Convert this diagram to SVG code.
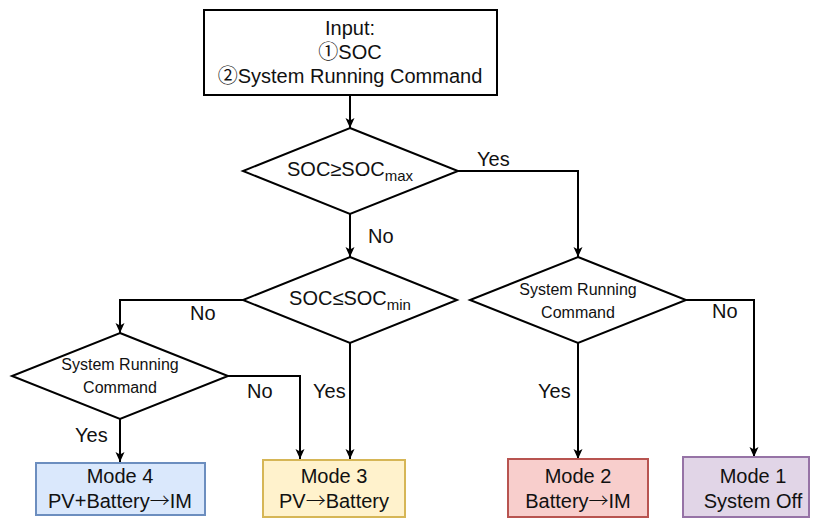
<svg xmlns="http://www.w3.org/2000/svg" width="816" height="518" viewBox="0 0 816 518">
  <defs>
    <marker id="arrow" markerUnits="userSpaceOnUse" markerWidth="12" markerHeight="12" viewBox="0 0 12 12" refX="11" refY="6" orient="auto">
      <path d="M1,1.5 L11,6 L1,10.5 L3.5,6 Z" fill="#000"/>
    </marker>
    <style>
      .box { fill: #fff; stroke: #000; stroke-width: 2; }
      .dia { fill: #fff; stroke: #000; stroke-width: 2; }
      .edge { fill: none; stroke: #000; stroke-width: 2; marker-end: url(#arrow); }
      text { font-family: "Liberation Sans", Arial, sans-serif; fill: #111; }
      .sym { font-family: "Noto Sans CJK SC", "DejaVu Sans", sans-serif; }
      .arr { font-family: "Noto Sans CJK SC", "DejaVu Sans", sans-serif; font-weight: 300; }
      .big { font-size: 20px; text-anchor: middle; }
      .small { font-size: 16px; text-anchor: middle; }
      .lbl { font-size: 20px; }
      .m4 { fill: #dae8fc; stroke: #6c8ebf; stroke-width: 2; }
      .m3 { fill: #fff2cc; stroke: #d6b656; stroke-width: 2; }
      .m2 { fill: #f8cecc; stroke: #b85450; stroke-width: 2; }
      .m1 { fill: #e1d5e7; stroke: #9673a6; stroke-width: 2; }
    </style>
  </defs>

  <!-- connectors -->
  <g id="edges">
    <path class="edge" d="M350,95 L350,128"/>
    <path class="edge" d="M458,171 L578,171 L578,257"/>
    <path class="edge" d="M350,214 L350,257"/>
    <path class="edge" d="M243,300 L120,300 L120,333"/>
    <path class="edge" d="M350,343 L350,459"/>
    <path class="edge" d="M228,376 L300,376 L300,459"/>
    <path class="edge" d="M120,419 L120,462"/>
    <path class="edge" d="M578,343 L578,459"/>
    <path class="edge" d="M686,300 L754,300 L754,457"/>
  </g>

  <!-- edge labels -->
  <g id="edge-labels">
    <text class="lbl" x="477" y="166">Yes</text>
    <text class="lbl" x="368" y="243">No</text>
    <text class="lbl" x="190" y="320">No</text>
    <text class="lbl" x="313" y="398">Yes</text>
    <text class="lbl" x="247" y="398">No</text>
    <text class="lbl" x="75" y="442">Yes</text>
    <text class="lbl" x="712" y="318">No</text>
    <text class="lbl" x="538" y="398">Yes</text>
  </g>

  <g id="input">
    <rect class="box" x="204" y="10" width="293" height="85"/>
    <text class="big" x="350" y="35">Input:</text>
    <text class="big" x="350" y="59"><tspan class="sym">①</tspan>SOC</text>
    <text class="big" x="350" y="83"><tspan class="sym">②</tspan>System Running Command</text>
  </g>

  <g id="soc-max">
    <polygon class="dia" points="350,128 458,171 350,214 243,171"/>
    <text class="big" x="350" y="176">SOC≥SOC<tspan font-size="15" dy="5">max</tspan></text>
  </g>

  <g id="soc-min">
    <polygon class="dia" points="350,257 457,300 350,343 243,300"/>
    <text class="big" x="350" y="305">SOC≤SOC<tspan font-size="15" dy="5">min</tspan></text>
  </g>

  <g id="cmd-left">
    <polygon class="dia" points="120,333 228,376 120,419 12,376"/>
    <text class="small" x="120" y="370">System Running</text>
    <text class="small" x="120" y="393">Command</text>
  </g>

  <g id="cmd-right">
    <polygon class="dia" points="578,257 686,300 578,343 470,300"/>
    <text class="small" x="578" y="295">System Running</text>
    <text class="small" x="578" y="318">Command</text>
  </g>

  <g id="mode4">
    <rect class="m4" x="36" y="463" width="169" height="52"/>
    <text class="big" x="120" y="483">Mode 4</text>
    <text class="big" x="120" y="508">PV+Battery<tspan class="arr">→</tspan>IM</text>
  </g>

  <g id="mode3">
    <rect class="m3" x="263" y="460" width="142" height="57"/>
    <text class="big" x="334" y="483">Mode 3</text>
    <text class="big" x="334" y="508">PV<tspan class="arr">→</tspan>Battery</text>
  </g>

  <g id="mode2">
    <rect class="m2" x="508" y="459" width="140" height="58"/>
    <text class="big" x="578" y="483">Mode 2</text>
    <text class="big" x="578" y="508">Battery<tspan class="arr">→</tspan>IM</text>
  </g>

  <g id="mode1">
    <rect class="m1" x="683" y="457" width="126" height="60"/>
    <text class="big" x="753" y="483">Mode 1</text>
    <text class="big" x="753" y="508">System Off</text>
  </g>
</svg>
